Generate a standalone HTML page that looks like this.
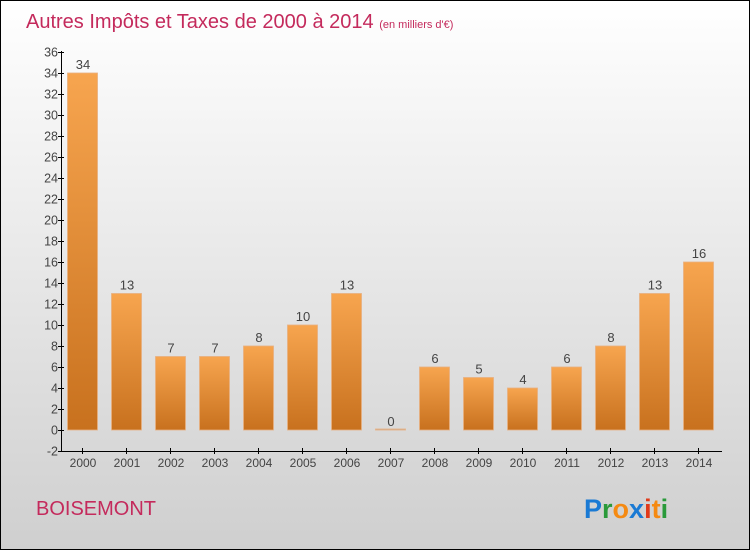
<!DOCTYPE html>
<html><head><meta charset="utf-8"><style>
body{margin:0}
#wrap{width:748px;height:548px;border:1px solid #000;background:linear-gradient(#ffffff,#cfcfcf);position:relative;overflow:hidden;font-family:"Liberation Sans",sans-serif}
</style></head><body>
<div id="wrap">
<svg width="748" height="548" id="svg" font-family="Liberation Sans, sans-serif">
<defs><linearGradient id="bg" x1="0" y1="0" x2="0" y2="1"><stop offset="0" stop-color="#f7a54f"/><stop offset="1" stop-color="#c8711e"/></linearGradient></defs>
<text x="25" y="27" font-size="20" fill="#c42a5c">Autres Impôts et Taxes de 2000 à 2014 <tspan font-size="11">(en milliers d'€)</tspan></text>
<text x="35" y="514" font-size="20" fill="#c42a5c">BOISEMONT</text>
<g font-size="27" font-weight="bold"><text x="583" y="517"><tspan fill="#1a7ad4">P</tspan><tspan fill="#2a9a3a">r</tspan><tspan fill="#f58a12">o</tspan><tspan fill="#1a7ad4">x</tspan><tspan fill="#e03a1a">i</tspan><tspan fill="#f58a12">t</tspan><tspan fill="#2a9a3a">i</tspan></text></g>
<g id="g"></g>
</svg></div>
<script>
const categories=["2000","2001","2002","2003","2004","2005","2006","2007","2008","2009","2010","2011","2012","2013","2014"];
const values=[34,13,7,7,8,10,13,0,6,5,4,6,8,13,16];
const yTicks=[-2,0,2,4,6,8,10,12,14,16,18,20,22,24,26,28,30,32,34,36];
const NS="http://www.w3.org/2000/svg";
const g=document.getElementById('g');
const y=v=>429-(v*10.5);
const x=i=>81+i*44;
function mk(t,a,txt){const e=document.createElementNS(NS,t);for(const k in a)e.setAttribute(k,a[k]);if(txt!=null)e.textContent=txt;g.appendChild(e);return e;}
let e=mk('line',{x1:60.5,y1:y(36)-1,x2:60.5,y2:y(-2),stroke:'#000'});


e=mk('line',{x1:60,y1:y(-2)+0.5,x2:721,y2:y(-2)+0.5,stroke:'#000'});


yTicks.forEach(t=>{
 mk('line',{x1:57,x2:63,y1:y(t)+0.5,y2:y(t)+0.5,stroke:'#000'});
 e=mk('text',{x:57,y:y(t)+4.5,'text-anchor':'end','font-size':12.5,fill:'#444'},t);
 
 
});
categories.forEach((c,i)=>{
 const cx=x(i);
 mk('line',{x1:cx+0.5,x2:cx+0.5,y1:y(-2)-3,y2:y(-2)+3,stroke:'#000'});
 e=mk('text',{x:cx+1,y:466,'text-anchor':'middle','font-size':12,fill:'#444'},c);
 
 
 const v=values[i];
 const h=Math.max(y(0)-y(v),1);
 e=mk('rect',{x:cx-14.5,y:y(0)-h,width:30,height:h,fill:v>0?'url(#bg)':'#aaa',stroke:'#e8b080','stroke-width':0.8});
 
 
 e=mk('text',{x:cx+1,y:y(v)-4,'text-anchor':'middle','font-size':13,fill:'#444'},v);
 
 
});
</script>
</body></html>
